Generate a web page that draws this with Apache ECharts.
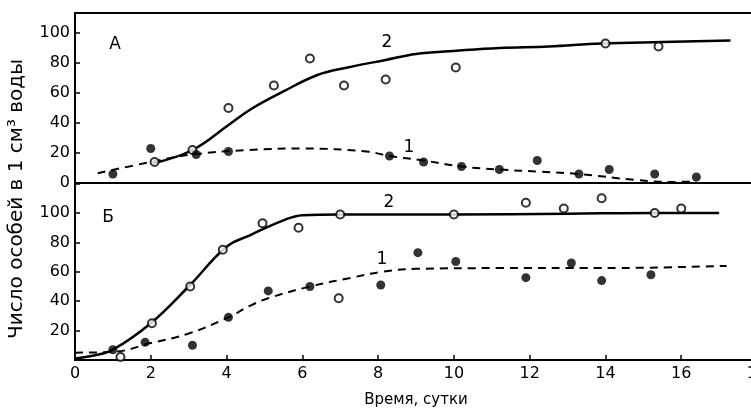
<!DOCTYPE html>
<html><head><meta charset="utf-8">
<script src="https://cdn.jsdelivr.net/npm/echarts@6/dist/echarts.min.js"></script>
<style>html,body{margin:0;padding:0;background:#fff}#c{width:751px;height:409px}</style>
</head><body><div id="c"></div>
<script>
// Panel A (top)
const topOpenX = [2.1, 3.1, 4.05, 5.25, 6.2, 7.1, 8.2, 10.05, 14.0, 15.4];
const topOpenY = [14, 22, 50, 65, 83, 65, 69, 77, 93, 91];
const topFilledX = [1.0, 2.0, 3.2, 4.05, 8.3, 9.2, 10.2, 11.2, 12.2, 13.3, 14.1, 15.3, 16.4];
const topFilledY = [6, 23, 19, 21, 18, 14, 11, 9, 15, 6, 9, 6, 4];
const topCurve2X = [2.05, 3.1, 4.07, 4.63, 5.5, 6.4, 7.2, 8.2, 9.0, 10.0, 11.2, 12.5, 13.9, 15.5, 17.3];
const topCurve2Y = [13, 22, 39, 49, 61, 72, 77, 82, 86, 88, 90, 91, 93, 94, 95];
const topCurve1X = [0.6, 2.0, 3.1, 4.6, 6.0, 7.7, 8.3, 9.2, 10.2, 11.2, 12.3, 13.3, 14.8, 15.8, 16.4];
const topCurve1Y = [6.5, 14, 19, 22, 23, 21, 18, 15, 11, 9, 7.5, 6, 2, 0.7, 1];
// Panel Б (bottom)
const botOpenX = [1.2, 2.03, 3.04, 3.9, 4.95, 5.9, 6.96, 7.0, 10.0, 11.9, 12.9, 13.9, 15.3, 16.0];
const botOpenY = [2, 25, 50, 75, 93, 90, 42, 99, 99, 107, 103, 110, 100, 103];
const botFilledX = [1.0, 1.85, 3.1, 4.05, 5.1, 6.2, 8.07, 9.05, 10.05, 11.9, 13.1, 13.9, 15.2];
const botFilledY = [7, 12, 10, 29, 47, 50, 51, 73, 67, 56, 66, 54, 58];
const botCurve2X = [0, 0.5, 1.0, 2.0, 3.0, 4.0, 4.63, 5.5, 6.0, 7.0, 10.0, 13.0, 15.3, 17.0];
const botCurve2Y = [1, 3, 7, 25, 50, 77, 85, 95, 98.5, 99, 99, 99.5, 100, 100];
const botCurve1X = [0, 1.0, 2.0, 3.0, 4.0, 4.63, 5.1, 6.2, 7.3, 8.1, 9.0, 11.2, 13.9, 17.2];
const botCurve1Y = [5, 5.5, 11.5, 18, 28.5, 37, 42, 50, 56, 60, 62, 62.5, 62.5, 64];
const xTicks = [0, 2, 4, 6, 8, 10, 12, 14, 16, 18];
const yTicks = [0, 20, 40, 60, 80, 100];

const zip = (xs, ys) => xs.map((x, i) => [x, ys[i]]);
const FONT = 'DejaVu Sans';
const chart = echarts.init(document.getElementById('c'));

function yAx(gi, max, showMin) {
  return {
    type: 'value', gridIndex: gi, min: 0, max: max, interval: 20,
    axisLine: {show: true, lineStyle: {color: '#000', width: 2}},
    axisTick: {show: true, inside: true, length: 5, lineStyle: {color: '#000', width: 1.5}},
    axisLabel: {color: '#000', fontFamily: FONT, fontSize: 16, margin: 5,
      showMaxLabel: false, showMinLabel: showMin,
      formatter: v => yTicks.includes(v) ? String(v) : ''},
    splitLine: {show: false}
  };
}
function xAx(gi, labels) {
  return {
    type: 'value', gridIndex: gi, min: 0, max: 18, interval: 2,
    axisLine: {show: true, onZero: false, lineStyle: {color: '#000', width: 2}},
    axisTick: {show: labels, inside: true, length: 5, lineStyle: {color: '#000', width: 1.5}},
    axisLabel: {show: labels, color: '#000', fontFamily: FONT, fontSize: 16, margin: 6,
      formatter: v => xTicks.includes(v) ? String(v) : ''},
    splitLine: {show: false},
    name: labels ? 'Время, сутки' : '', nameLocation: 'middle', nameGap: 33,
    nameTextStyle: {color: '#000', fontFamily: FONT, fontSize: 15}
  };
}
const openSym = {symbol: 'circle', symbolSize: 8, itemStyle: {color: '#fff', borderColor: '#000', borderWidth: 2}};
const fillSym = {symbol: 'circle', symbolSize: 9, itemStyle: {color: '#000', borderColor: '#000', borderWidth: 0}};
function curve(gi, xs, ys, dashed) {
  return {type: 'line', xAxisIndex: gi, yAxisIndex: gi, data: zip(xs, ys), smooth: 0.4,
    showSymbol: false, silent: true, z: 2,
    lineStyle: {color: '#000', width: dashed ? 2 : 2.5, type: dashed ? [8, 6] : 'solid'}};
}
function pts(gi, xs, ys, sym) {
  return Object.assign({type: 'scatter', xAxisIndex: gi, yAxisIndex: gi, data: zip(xs, ys), z: 3}, sym);
}
const txt = (x, y, s, size) => ({type: 'text', x: x, y: y,
  style: {text: s, fill: '#000', font: (size || 17) + 'px ' + FONT, align: 'center', verticalAlign: 'middle'}});

chart.setOption({
  animation: false,
  backgroundColor: '#fff',
  grid: [
    {left: 75, top: 13, width: 682, height: 170, show: true, borderColor: '#000', borderWidth: 2,
      outerBoundsMode: 'none', containLabel: false},
    {left: 75, top: 183, width: 682, height: 177, show: true, borderColor: '#000', borderWidth: 2,
      outerBoundsMode: 'none', containLabel: false}
  ],
  xAxis: [xAx(0, false), xAx(1, true)],
  yAxis: [yAx(0, 113.3, true), yAx(1, 120.4, false)],
  series: [
    curve(0, topCurve2X, topCurve2Y, false),
    curve(0, topCurve1X, topCurve1Y, true),
    pts(0, topOpenX, topOpenY, openSym),
    pts(0, topFilledX, topFilledY, fillSym),
    curve(1, botCurve2X, botCurve2Y, false),
    curve(1, botCurve1X, botCurve1Y, true),
    pts(1, botOpenX, botOpenY, openSym),
    pts(1, botFilledX, botFilledY, fillSym)
  ],
  graphic: [
    txt(115, 45, 'А'), txt(387, 43, '2'), txt(409, 148, '1'),
    txt(108, 218, 'Б'), txt(389, 203, '2'), txt(382, 260, '1'),
    {type: 'text', x: 17, y: 199, rotation: Math.PI / 2,
      style: {text: 'Число особей в 1 см³ воды', fill: '#000', font: '20px ' + FONT,
        align: 'center', verticalAlign: 'middle'}}
  ]
});
</script></body></html>
